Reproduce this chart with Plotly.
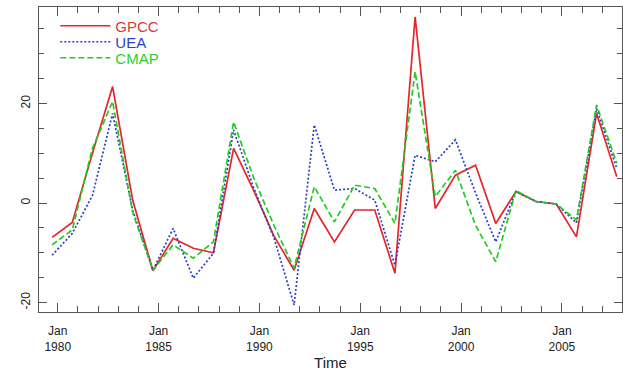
import plotly.graph_objects as go

# time index (decimal years, one value per year)
time = [1979.72, 1980.72, 1981.72, 1982.72, 1983.72, 1984.72, 1985.72, 1986.72,
        1987.72, 1988.72, 1989.72, 1990.72, 1991.72, 1992.72, 1993.72, 1994.72,
        1995.72, 1996.72, 1997.72, 1998.72, 1999.72, 2000.72, 2001.72, 2002.72,
        2003.72, 2004.72, 2005.72, 2006.72, 2007.72]

gpcc = [-6.9, -3.9, 10.0, 23.4, 0.5, -13.6, -7.1, -9.1, -10.0, 11.0, 2.5, -6.6,
        -13.5, -1.1, -7.8, -1.4, -1.4, -14.1, 37.4, -1.1, 5.6, 7.6, -4.1, 2.3,
        0.3, -0.2, -6.8, 18.0, 5.3]
uea = [-10.5, -6.1, 1.5, 18.0, -1.5, -13.5, -5.1, -15.1, -10.1, 14.7, 3.0, -7.0,
       -20.5, 15.7, 2.6, 2.9, 0.6, -12.5, 9.6, 8.3, 12.7, 2.0, -7.8, 2.3,
       0.3, -0.2, -4.0, 19.0, 7.0]
cmap = [-8.4, -5.4, 11.0, 20.4, -2.0, -13.5, -8.4, -11.1, -7.8, 16.3, 5.0, -4.5,
        -13.1, 3.3, -3.8, 3.6, 2.9, -4.1, 26.4, 1.3, 6.6, -4.5, -11.8, 2.5,
        0.3, -0.2, -3.4, 19.7, 8.0]

xtick_vals = [1980, 1985, 1990, 1995, 2000, 2005]
xtick_text = ["Jan<br>1980", "Jan<br>1985", "Jan<br>1990", "Jan<br>1995",
              "Jan<br>2000", "Jan<br>2005"]
ytick_vals = [-20, 0, 20]
ytick_text = ["-20", "0", "20"]

RED = "#e3262a"
BLUE = "#2b3fc6"
GREEN = "#22cc22"

fig = go.Figure()
fig.add_trace(go.Scatter(x=time, y=gpcc, mode="lines", legend="legend",
                         name="<span style='color:#d93a3a'>GPCC</span>",
                         line=dict(color=RED, width=1.7, dash="solid")))
fig.add_trace(go.Scatter(x=time, y=uea, mode="lines", legend="legend2",
                         name="<span style='color:#2b45c0'>UEA</span>",
                         line=dict(color=BLUE, width=1.7, dash="2px,2px")))
fig.add_trace(go.Scatter(x=time, y=cmap, mode="lines", legend="legend3",
                         name="<span style='color:#2ccf2c'>CMAP</span>",
                         line=dict(color=GREEN, width=1.7, dash="6px,3px")))

axis_common = dict(showline=True, linecolor="#555", linewidth=1, showgrid=False,
                   zeroline=False, ticks="inside", tickcolor="#555",
                   automargin=False,
                   tickfont=dict(family="Liberation Sans", size=12, color="#222"))

leg_common = dict(x=0.028, xanchor="left", yanchor="middle",
                  bgcolor="rgba(255,255,255,0)", borderwidth=0, itemwidth=50,
                  font=dict(family="Liberation Sans", size=15))

fig.update_layout(
    width=623, height=373,
    margin=dict(l=39, r=1, t=7, b=61),
    paper_bgcolor="white", plot_bgcolor="white",
    font=dict(family="Liberation Sans", color="#222"),
    showlegend=True,
    legend=dict(y=0.9377, **leg_common),
    legend2=dict(y=0.8852, **leg_common),
    legend3=dict(y=0.8328, **leg_common),
    xaxis=dict(range=[1979.07, 2007.98], tickmode="array",
               tickvals=xtick_vals, ticktext=xtick_text, ticklen=9,
               mirror="allticks", ticklabelstandoff=8,
               minor=dict(dtick=1, tick0=1980, ticklen=6, ticks="inside",
                          tickcolor="#555"),
               title=dict(text="Time", standoff=4,
                          font=dict(family="Liberation Sans", size=15, color="#222")),
               **axis_common),
    yaxis=dict(range=[-21.9, 39.4], tickmode="array",
               tickvals=ytick_vals, ticktext=ytick_text, ticklen=8,
               tickangle=-90, mirror="allticks", ticklabelstandoff=3,
               minor=dict(dtick=5, tick0=0, ticklen=5, ticks="inside",
                          tickcolor="#555"),
               **axis_common),
)

fig.write_html("out.html",
               config={"displayModeBar": False},
               post_script="document.body.style.margin='0';"
                           "document.body.style.padding='0';"
                           "document.body.style.overflow='hidden';"
                           "document.documentElement.style.overflow='hidden';")
